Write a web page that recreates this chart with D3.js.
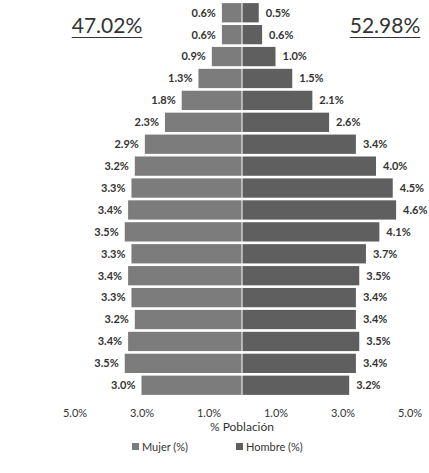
<!DOCTYPE html>
<html>
<head>
<meta charset="utf-8">
<script src="https://cdn.jsdelivr.net/npm/d3@7"></script>
<style>
  body { margin: 0; background: #fff; }
  svg { display: block; font-family: Lato, "Open Sans", sans-serif; }
</style>
</head>
<body>
<svg id="chart" width="429" height="473"></svg>
<script>
// age groups, top row = oldest
const ageGroups = ["85+", "80-84", "75-79", "70-74", "65-69", "60-64", "55-59", "50-54", "45-49",
  "40-44", "35-39", "30-34", "25-29", "20-24", "15-19", "10-14", "5-9", "0-4"]
const mujer = [0.6, 0.6, 0.9, 1.3, 1.8, 2.3, 2.9, 3.2, 3.3, 3.4, 3.5, 3.3, 3.4, 3.3, 3.2, 3.4, 3.5, 3.0]
const hombre = [0.5, 0.6, 1.0, 1.5, 2.1, 2.6, 3.4, 4.0, 4.5, 4.6, 4.1, 3.7, 3.5, 3.4, 3.4, 3.5, 3.4, 3.2]
const totals = ["47.02%", "52.98%"]
const tickValues = [-5, -3, -1, 1, 3, 5]
const seriesNames = ["Mujer (%)", "Hombre (%)"]
const colors = ["#7c7c7c", "#5f5f5f"]

var svg = d3.select("#chart")
var cx = 242
var pxPerPct = 33.5

var x = d3.scaleLinear()
  .domain([-5, 5])
  .range([cx - 5 * pxPerPct, cx + 5 * pxPerPct])

var y = d3.scaleBand()
  .domain(ageGroups)
  .range([2, 396])
  .paddingInner(0.12)
  .paddingOuter(0.05)

var rows = ageGroups.map(function(g, i) {
  return { group: g, m: mujer[i], h: hombre[i] }
})

// left bars (Mujer)
svg.append("g").selectAll("rect")
  .data(rows)
  .enter().append("rect")
  .attr("x", function(d) { return x(-d.m) })
  .attr("y", function(d) { return y(d.group) })
  .attr("width", function(d) { return x(0) - x(-d.m) - 0.5 })
  .attr("height", y.bandwidth())
  .attr("fill", colors[0])

// right bars (Hombre)
svg.append("g").selectAll("rect")
  .data(rows)
  .enter().append("rect")
  .attr("x", x(0) + 0.5)
  .attr("y", function(d) { return y(d.group) })
  .attr("width", function(d) { return x(d.h) - x(0) - 0.5 })
  .attr("height", y.bandwidth())
  .attr("fill", colors[1])

// value labels
svg.append("g").selectAll("text")
  .data(rows)
  .enter().append("text")
  .attr("x", function(d) { return x(-d.m) - 6 })
  .attr("y", function(d) { return y(d.group) + y.bandwidth() / 2 })
  .attr("dy", "0.35em")
  .attr("text-anchor", "end")
  .attr("font-size", 11)
  .attr("font-weight", "bold")
  .attr("fill", "#333")
  .text(function(d) { return d.m.toFixed(1) + "%" })

svg.append("g").selectAll("text")
  .data(rows)
  .enter().append("text")
  .attr("x", function(d) { return x(d.h) + 7 })
  .attr("y", function(d) { return y(d.group) + y.bandwidth() / 2 })
  .attr("dy", "0.35em")
  .attr("font-size", 11)
  .attr("font-weight", "bold")
  .attr("fill", "#333")
  .text(function(d) { return d.h.toFixed(1) + "%" })

// x axis, absolute values on both sides
var xAxis = d3.axisBottom(x)
  .tickValues(tickValues)
  .tickSize(0)
  .tickFormat(function(d) { return Math.abs(d).toFixed(1) + "%" })

var ax = svg.append("g")
  .attr("transform", "translate(0,406)")
  .call(xAxis)
ax.select(".domain").remove()
ax.selectAll("text")
  .attr("font-size", 11)
  .attr("font-family", "Lato, sans-serif")
  .attr("fill", "#333")

svg.append("text")
  .attr("x", cx)
  .attr("y", 431)
  .attr("text-anchor", "middle")
  .attr("font-size", 12)
  .attr("fill", "#333")
  .text("% Población")

// totals at the top
var tot = svg.append("g").selectAll("g")
  .data(totals)
  .enter().append("g")
tot.append("text")
  .attr("x", function(d, i) { return i === 0 ? 107 : 385 })
  .attr("y", 33)
  .attr("text-anchor", "middle")
  .attr("font-size", 21)
  .attr("fill", "#333")
  .text(function(d) { return d })
tot.each(function() {
  var b = d3.select(this).select("text").node().getBBox()
  d3.select(this).append("line")
    .attr("x1", b.x).attr("x2", b.x + b.width)
    .attr("y1", 37.5).attr("y2", 37.5)
    .attr("stroke", "#333")
    .attr("stroke-width", 1.2)
})

// legend
var legend = svg.append("g")
  .attr("transform", "translate(132,447)")
var item = legend.selectAll("g")
  .data(seriesNames)
  .enter().append("g")
  .attr("transform", function(d, i) { return "translate(" + (i * 104) + ",0)" })
item.append("rect")
  .attr("x", 0).attr("y", -4)
  .attr("width", 7).attr("height", 7)
  .attr("fill", function(d, i) { return colors[i] })
item.append("text")
  .attr("x", 10)
  .attr("dy", "0.35em")
  .attr("font-size", 11)
  .attr("fill", "#333")
  .text(function(d) { return d })
</script>
</body>
</html>
